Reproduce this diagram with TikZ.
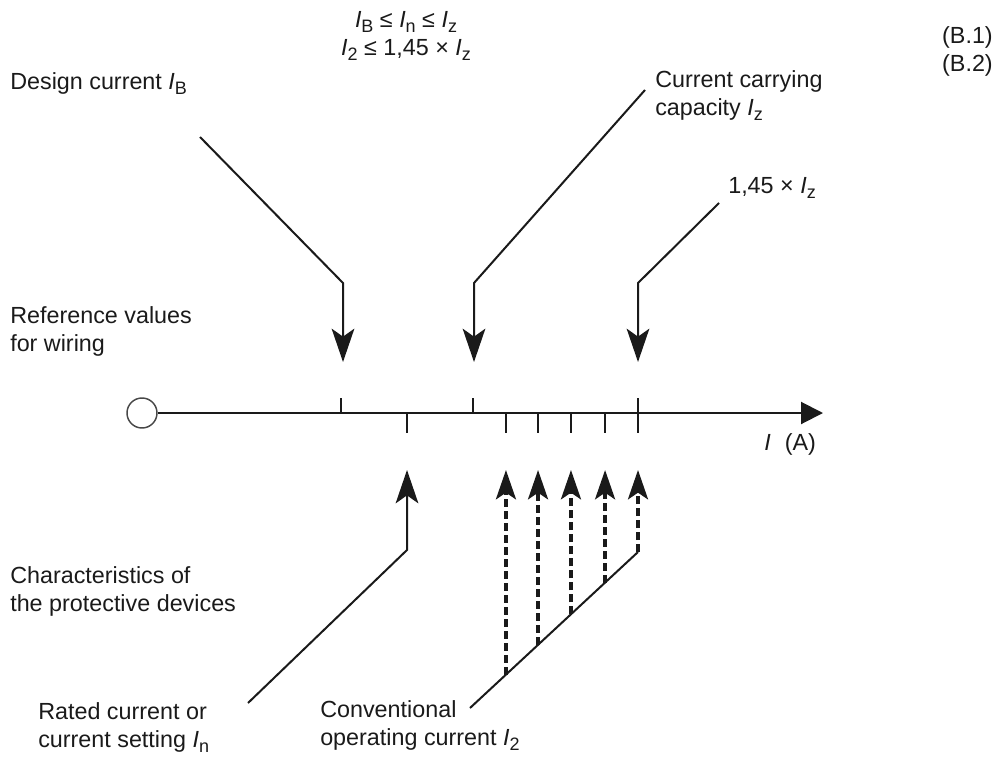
\documentclass[tikz,border=0pt]{standalone}
\usepackage{fontspec}
\setmainfont{Liberation Sans}
\usetikzlibrary{arrows.meta,calc,positioning}
\definecolor{InkDark}{HTML}{1A1A1A}
\newcommand{\lowidx}[1]{\raisebox{-0.4ex}{\fontsize{13.5}{13.5}\selectfont #1}}
\newcommand{\cur}[1]{\textit{I}\lowidx{#1}}

\tikzset{
  annot/.style={inner sep=0pt, align=left, text=InkDark,
    font=\fontsize{17.5}{21}\selectfont},
  leader/.style={line width=1.5pt, draw=InkDark},
  pointer/.style={leader, -{Stealth[length=25pt,width=17pt,inset=6pt]}},
  uppointer/.style={line width=2.6pt, draw=InkDark, dash pattern=on 6pt off 3pt,
    -{Stealth[length=22pt,width=15pt,inset=5pt]}},
  tickmark/.style={line width=1.5pt, draw=InkDark}
}

\begin{document}
\begin{tikzpicture}[x=0.75pt, y=-0.75pt]
  \useasboundingbox (0,0) rectangle (998,756);

  % conditions
  \node[annot, align=center, anchor=north] (ineqTxt) at (406,11)
    {\cur{B} ≤ \cur{n} ≤ \cur{z}\\
     \cur{2} ≤ 1,45 × \cur{z}};
  \node[annot, align=left, anchor=north east] (eqnTxt) at (993,26) {(B.1)\\(B.2)};

  % left column
  \node[annot, anchor=north west] (designTxt) at (10,72) {Design current \cur{B}};
  \node[annot, anchor=north west] (refTxt) at (10,306) {Reference values\\for wiring};
  \node[annot, anchor=north west] (charTxt) at (10,566) {Characteristics of\\the protective devices};
  \node[annot, anchor=north west] (ratedTxt) at (38,702) {Rated current or\\current setting \cur{n}};

  % right labels
  \node[annot, anchor=north west] (capTxt) at (655,70) {Current carrying\\capacity \cur{z}};
  \node[annot, anchor=north west] (factorTxt) at (728,177) {1,45 × \cur{z}};
  \node[annot, anchor=north west] (convTxt) at (320,700) {Conventional\\operating current \cur{2}};
  \node[annot, anchor=north west] (axisTxt) at (764,433) {\textit{I}\hspace{0.6em}(A)};

  % current axis
  \node[circle, draw=InkDark!80, line width=1.1pt, minimum size=22.5pt, inner sep=0pt] (origin) at (142,413) {};
  \coordinate (axisEnd) at (823,413);
  \draw[line width=1.5pt, draw=InkDark, -{Triangle[length=16.5pt,width=16.5pt]}] (origin) -- (axisEnd);
  \foreach \x in {341,473}
    \draw[tickmark] (\x,398) -- (\x,413);
  \foreach \x in {407,506,538,571,605}
    \draw[tickmark] (\x,413) -- (\x,433);
  \draw[tickmark] (638,398) -- (638,433);

  % reference values for wiring
  \coordinate (topTips) at (0,362);
  \coordinate (dsgStart) at (200,137);
  \coordinate (dsgBend) at (343,283);
  \coordinate (capStart) at (645,90);
  \coordinate (capBend) at (474,283);
  \coordinate (facStart) at (719,203);
  \coordinate (facBend) at (638,283);
  \draw[pointer] (dsgStart) -- (dsgBend) -- (dsgBend |- topTips);
  \draw[pointer] (capStart) -- (capBend) -- (capBend |- topTips);
  \draw[pointer] (facStart) -- (facBend) -- (facBend |- topTips);

  % protective device characteristics
  \coordinate (lowTips) at (0,470);
  \coordinate (ratedStart) at (248,703);
  \coordinate (ratedBend) at (407,550);
  \draw[pointer] (ratedStart) -- (ratedBend) -- (ratedBend |- lowTips);
  \coordinate (convLow) at (470,708);
  \coordinate (convHigh) at (638,552);
  \draw[leader] (convLow) -- (convHigh);
  \foreach \t [count=\i] in {0.214,0.405,0.601,0.804,1} {
    \coordinate (foot\i) at ($(convLow)!\t!(convHigh)$);
    \draw[uppointer] (foot\i) -- (foot\i |- lowTips);
  }
\end{tikzpicture}
\end{document}
